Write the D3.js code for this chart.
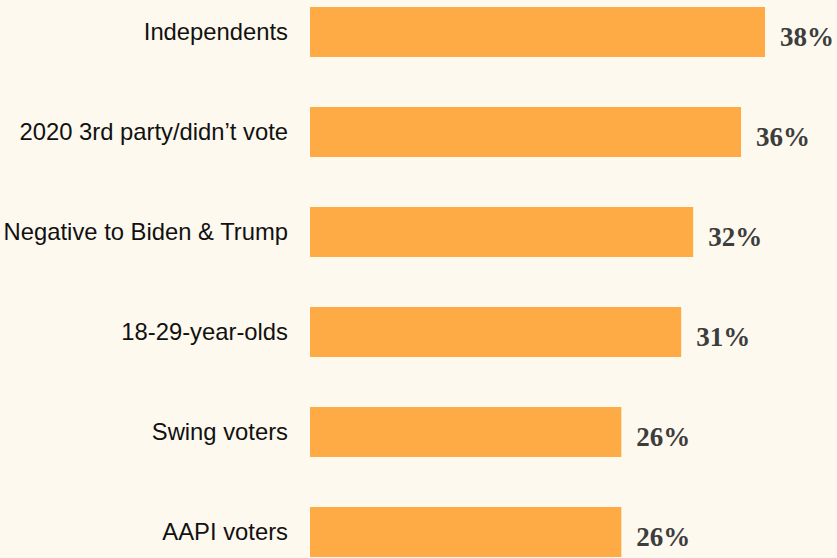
<!DOCTYPE html>
<html>
<head>
<meta charset="utf-8">
<script src="https://cdn.jsdelivr.net/npm/d3@7"></script>
<style>
html,body{margin:0;padding:0;background:#fef9ee;}
svg{display:block;}
</style>
</head>
<body>
<svg id="chart" width="837" height="558"></svg>
<script>
const categories = ["Independents","2020 3rd party/didn\u2019t vote","Negative to Biden & Trump","18-29-year-olds","Swing voters","AAPI voters"];
const values = [38, 36, 32, 31, 26, 26];

const svg = d3.select("#chart");
svg.append("rect").attr("width",837).attr("height",558).attr("fill","#fef9ee");

const x = d3.scaleLinear().domain([0, 38]).range([310, 765]);
const y = d3.scaleBand().domain(categories).range([-18, 582]).paddingInner(0.5).paddingOuter(0.25);

const g = svg.append("g");
g.selectAll("rect.bar").data(categories).join("rect")
  .attr("class","bar")
  .attr("x", x(0))
  .attr("y", d => y(d))
  .attr("width", (d,i) => x(values[i]) - x(0))
  .attr("height", y.bandwidth())
  .attr("fill", "#ffab45");

g.selectAll("text.cat").data(categories).join("text")
  .attr("class","cat")
  .attr("x", 288)
  .attr("y", d => y(d) + y.bandwidth()/2)
  .attr("dy", "0.35em")
  .attr("text-anchor","end")
  .attr("font-family","Liberation Sans, Arial, sans-serif")
  .attr("font-size", 23.8)
  .attr("fill","#111")
  .text(d => d);

g.selectAll("text.val").data(categories).join("text")
  .attr("class","val")
  .attr("x", (d,i) => x(values[i]) + 15)
  .attr("y", d => y(d) + y.bandwidth()/2 + 14)
  .attr("text-anchor","start")
  .attr("font-family","Liberation Serif, Georgia, serif")
  .attr("font-weight","bold")
  .attr("font-size", 27)
  .attr("fill","#3d3d3d")
  .text((d,i) => values[i] + "%");
</script>
</body>
</html>
